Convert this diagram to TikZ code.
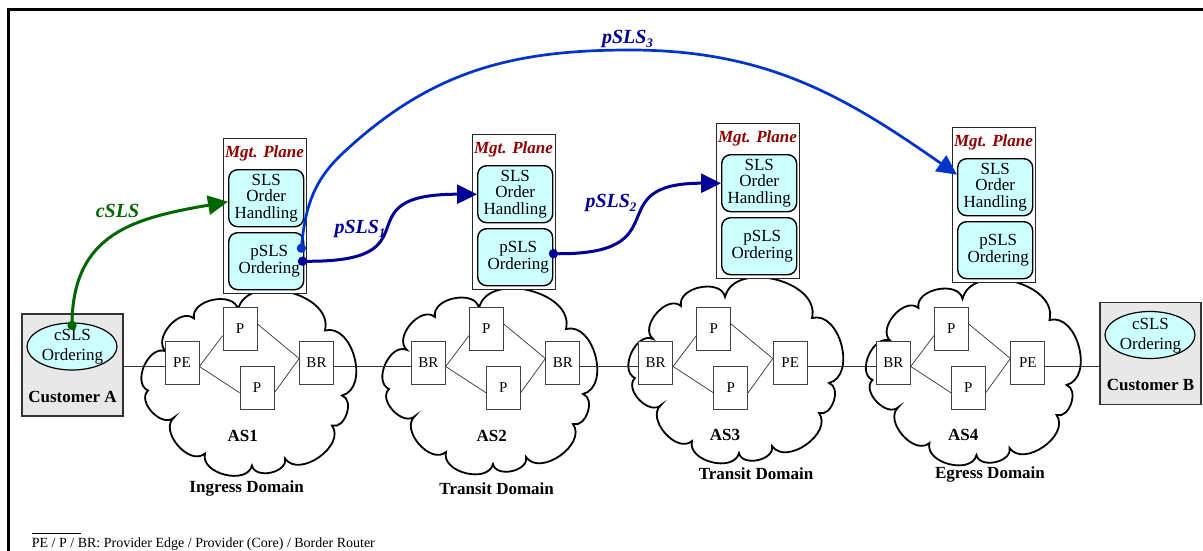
\documentclass[tikz,border=0pt]{standalone}
\usepackage{fontspec}
\setmainfont{Liberation Serif}
\usetikzlibrary{arrows.meta,calc,shapes.geometric}

\definecolor{mgtred}{RGB}{140,0,0}
\definecolor{boxcyan}{RGB}{204,255,255}
\definecolor{custgray}{RGB}{232,232,232}
\definecolor{slsnavy}{RGB}{0,0,150}
\definecolor{slsblue}{RGB}{0,51,204}
\definecolor{slsgreen}{RGB}{0,102,0}

\newcommand\fsz[2]{\fontsize{#1}{#2}\selectfont}
\newcommand\lowsub[1]{\raisebox{-0.22em}{\fontsize{13}{13}\selectfont #1}}

\tikzset{
  router/.style={draw=black!75, fill=white, line width=0.8pt, minimum width=34pt,
    minimum height=43pt, inner sep=0pt, font=\fsz{15}{15}},
  rlink/.style={draw=black!80, line width=0.7pt},
  cloudline/.style={draw=black, line width=1.8pt, fill=white},
  puff/.style={bend right=90, looseness=1.1},
  mgtframe/.style={draw=black!85, line width=1.4pt, fill=white, minimum width=83pt,
    minimum height=155pt, inner sep=0pt, anchor=north west},
  funcbox/.style={draw=black, line width=1.4pt, fill=boxcyan, rounded corners=9pt,
    minimum width=75pt, minimum height=57pt, inner sep=0pt, align=center,
    anchor=north west, font=\fsz{17}{16.7}},
  mgtlabel/.style={text=mgtred, font=\fsz{17}{17}\bfseries\itshape, inner sep=0pt},
  domlabel/.style={font=\fsz{17}{17}\bfseries, inner sep=0pt},
  custbox/.style={draw=black!80, line width=1.4pt, fill=custgray, minimum width=101pt,
    minimum height=102pt, inner sep=0pt},
  custell/.style={ellipse, draw=black, line width=1.2pt, fill=boxcyan, minimum width=90pt,
    minimum height=47pt, inner sep=0pt},
  celltext/.style={align=center, inner sep=0pt, font=\fsz{17}{20}},
  sigline/.style={line width=3pt, -{Triangle[length=20pt,width=19pt]}},
  sigdot/.style={circle, fill=#1, minimum size=9pt, inner sep=0pt},
  siglabel/.style={inner sep=0pt, font=\fsz{20}{20}\bfseries\itshape},
  cloudpic/.pic={
    \draw[cloudline] (-82,30)
      to[puff] (-100,-9) to[puff] (-74,-36) to[puff] (-43,-72)
      to[puff] (4,-84) to[puff] (37,-77) to[puff] (84,-44)
      to[puff] (94,-14) to[puff] (77,51) to[puff] (-10,72)
      to[puff] (-54,63) to[puff] (-82,30) -- cycle;
  }
}

% one autonomous system: edge/border router, two core routers, edge/border router
\newcommand\asdomain[4]{%
  \node[router] (#1-l) at (#2,-362.5) {#3};
  \node[router] (#1-pt) at (#2+58,-328.7) {P};
  \node[router] (#1-pb) at (#2+75,-388) {P};
  \node[router] (#1-r) at (#2+134.5,-362.5) {#4};
  \draw[rlink] ([yshift=-4pt]#1-l.east) -- ([yshift=-7pt]#1-pt.west);
  \draw[rlink] ([yshift=-4pt]#1-l.east) -- ([yshift=-4.7pt]#1-pb.west);
  \draw[rlink] ([yshift=4.7pt]#1-pt.east) -- ([yshift=4pt]#1-r.west);
  \draw[rlink] ([yshift=-4.7pt]#1-pb.east) -- ([yshift=4pt]#1-r.west);
}

% management plane of one domain
\newcommand\mgtplane[3]{%
  \node[mgtframe] (#1) at (#2,-#3) {};
  \node[mgtlabel] (#1-title) at ($(#1.north west)+(41.5,-15)$) {Mgt. Plane};
  \node[funcbox] (#1-sls) at ($(#1.north west)+(5,-31)$) {SLS\\Order\\Handling};
  \node[funcbox] (#1-psls) at ($(#1.north west)+(5,-94)$)
    {\hspace*{6pt}pSLS\\\hspace*{6pt}Ordering};
}

\begin{document}
\begin{tikzpicture}[x=1pt,y=1pt]
\useasboundingbox (0,0) rectangle (1203,-551);
\fill[white] (0,0) rectangle (1203,-551);

% outer frame
\draw[line width=3pt] (8.5,-551) -- (8.5,-10) -- (1203,-10);

% domain clouds
\pic at (248,-381.5) {cloudpic};
\pic at (489,-380) {cloudpic};
\pic at (735,-369) {cloudpic};
\pic at (972.5,-371) {cloudpic};

% customers
\node[custbox] (custA) at (72.5,-365) {};
\node[custell] (custA-ell) at (72,-346.5) {};
\node[celltext] (custA-txt) at (72.5,-347) {cSLS\\Ordering};
\node[domlabel] (custA-name) at (72.5,-396.7) {Customer A};

\node[custbox] (custB) at (1150.5,-353.5) {};
\node[custell] (custB-ell) at (1150,-335) {};
\node[celltext] (custB-txt) at (1150.5,-335.5) {cSLS\\Ordering};
\node[domlabel] (custB-name) at (1150.5,-385) {Customer B};

% routers inside each domain
\asdomain{as1}{182}{PE}{BR}
\asdomain{as2}{428.3}{BR}{BR}
\asdomain{as3}{655.7}{BR}{PE}
\asdomain{as4}{893.3}{BR}{PE}

% inter-domain links
\draw[rlink] ([yshift=-4pt]as1-l.west -| custA.east) -- ([yshift=-4pt]as1-l.west);
\draw[rlink] ([yshift=-4pt]as1-r.east) -- ([yshift=-4pt]as2-l.west);
\draw[rlink] ([yshift=-4pt]as2-r.east) -- ([yshift=-4pt]as3-l.west);
\draw[rlink] ([yshift=-4pt]as3-r.east) -- ([yshift=-4pt]as4-l.west);
\draw[rlink] ([yshift=-4pt]as4-r.east) -- ([yshift=-4pt]as4-r.east -| custB.west);

% domain names
\node[domlabel] (as1-name) at (242.7,-436) {AS1};
\node[domlabel] (as2-name) at (491.7,-436) {AS2};
\node[domlabel] (as3-name) at (725,-435) {AS3};
\node[domlabel] (as4-name) at (963.3,-435) {AS4};
\node[domlabel] (as1-role) at (246.7,-488.3) {Ingress Domain};
\node[domlabel] (as2-role) at (496.7,-488.3) {Transit Domain};
\node[domlabel] (as3-role) at (756,-473.5) {Transit Domain};
\node[domlabel] (as4-role) at (990,-474.3) {Egress Domain};

% management planes
\mgtplane{mp1}{223}{138}
\mgtplane{mp2}{472}{134}
\mgtplane{mp3}{716}{123}
\mgtplane{mp4}{952}{127}

% SLS signalling
\node[sigdot=slsgreen] (dotc) at ([yshift=-3pt]custA-ell.north) {};
\node[sigdot=slsnavy] (dot1) at ([xshift=-2pt]mp1-psls.east) {};
\node[sigdot=slsblue] (dot3) at ([xshift=-3pt,yshift=13pt]mp1-psls.east) {};
\node[sigdot=slsnavy] (dot2) at ([yshift=3.5pt]mp2-psls.east) {};

\draw[sigline, slsgreen] (dotc.center) to[out=90, in=190, looseness=1.2]
  ([yshift=-3.5pt]mp1-sls.west);
\draw[sigline, slsnavy] (dot1.center) to[out=-1, in=180, out distance=139, in distance=140]
  (mp2-sls.west);
\draw[sigline, slsnavy] (dot2.center) to[out=-1, in=180, out distance=130, in distance=125]
  (mp3-sls.west);
\coordinate (w3a) at (343,-153);
\coordinate (w3b) at (630,-50);
\draw[sigline, slsblue, line width=2.7pt] (dot3.center) to[out=85, in=223] (w3a)
  to[out=43, in=180] (w3b) to[out=0, in=145] ([yshift=12.5pt]mp4-sls.west);

\node[sigdot=slsgreen] at (dotc) {};
\node[sigdot=slsblue] at (dot3) {};
\node[sigdot=slsnavy] at (dot1) {};
\node[sigdot=slsnavy] at (dot2) {};

\node[siglabel, text=slsgreen] (lab-c) at (117.5,-211) {cSLS};
\node[siglabel, text=slsnavy] (lab-1) at (360,-229) {pSLS\lowsub{1}};
\node[siglabel, text=slsnavy] (lab-2) at (611,-203) {pSLS\lowsub{2}};
\node[siglabel, text=slsnavy] (lab-3) at (627.5,-39) {pSLS\lowsub{3}};

% legend under a short rule
\draw[line width=0.6pt] (31.7,-533) -- (81,-533);
\node[anchor=base west, inner sep=0pt, font=\fsz{14}{14}] (legend) at (31.7,-547.5)
  {PE / P / BR: Provider Edge / Provider (Core) / Border Router};
\end{tikzpicture}
\end{document}
